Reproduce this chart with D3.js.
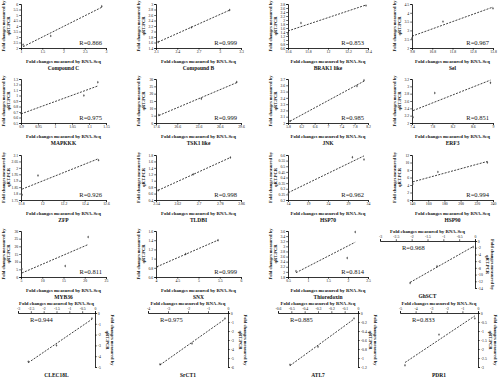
<!DOCTYPE html>
<html><head><meta charset="utf-8">
<script src="https://cdn.jsdelivr.net/npm/d3@7"></script>
<style>
body{margin:0;background:#fff}
svg{display:block}
text{font-family:"Liberation Serif","Times New Roman",serif;fill:#111}
</style>
</head><body><svg id="c" width="500" height="381"></svg>
<script>
// ---------- data ----------
const titles = ["Compound C","Compound B","BRAK1 like","Sel",
  "MAPKKK","TSK1 like","JNK","ERF3",
  "ZFP","TLDBI","HSP70","HSP90",
  "MYB36","SNX","Thioredoxin","GhSCT",
  "CLEC18L","SrCT1","ATL7","PDR1"];
const rLabels = ["R=0.866","R=0.999","R=0.853","R=0.967",
  "R=0.975","R=0.999","R=0.985","R=0.851",
  "R=0.926","R=0.998","R=0.962","R=0.994",
  "R=0.811","R=0.999","R=0.814","R=0.968",
  "R=0.944","R=0.975","R=0.885","R=0.833"];
const xTicks = [
  [1,1.5,2,2.5,3],
  [2.1,2.4,2.7,3,3.3],
  [11.6,11.8,12,12.2,12.4],
  [9.8,10.8,11.8,12.8,13.8],
  [0.9,0.95,1,1.05,1.1,1.15],
  [17.6,20.6,23.6,26.6,29.6],
  [5.8,6.2,6.6,7,7.4,7.8,8.2],
  [7.4,7.8,8.2,8.6,9],
  [11.8,12,12.2,12.4,12.6],
  [2.54,2.62,2.7,2.78,2.86],
  [14,19,24,29,34],
  [140,160,180,200,220,240],
  [5,10,15,20,25],
  [4,4.5,5,5.5,6],
  [0.5,1,1.5,2,2.5],
  [-3,-2.5,-2,-1.5,-1,-0.5,0],
  [-3,-2.5,-2,-1.5,-1,-0.5,0],
  [-4,-3,-2,-1,0],
  [-0.6,-0.5,-0.4,-0.3,-0.2,-0.1,0],
  [-5,-4,-3,-2,-1,0]];
const yTicks = [
  [2,2.5,3,3.5,4,4.5,5,5.5,6],
  [1.4,1.6,1.8,2,2.2,2.4,2.6,2.8,3],
  [0.6,0.8,1,1.2,1.4,1.6,1.8,2,2.2,2.4,2.6,2.8],
  [2,2.5,3,3.5,4,4.5],
  [0.5,0.6,0.7,0.8,0.9,1,1.1,1.2,1.3],
  [0,5,10,15,20,25,30],
  [2,2.1,2.2,2.3,2.4,2.5,2.6,2.7],
  [2,2.2,2.4,2.6,2.8,3,3.2],
  [1.75,1.8,1.85,1.9,1.95,2,2.05,2.1],
  [0.4,0.6,0.8,1,1.2,1.4,1.6,1.8],
  [0.2,0.25,0.3,0.35,0.4,0.45,0.5,0.55,0.6],
  [0,2,4,6,8,10,12],
  [0,5,10,15,20,25,30],
  [0.6,0.8,1,1.2,1.4,1.6],
  [1.8,2,2.2,2.4,2.6,2.8,3,3.2,3.4,3.6],
  [-14,-12,-10,-8,-6,-4,-2,0],
  [-5,-4,-3,-2,-1,0],
  [-6,-5,-4,-3,-2,-1,0],
  [-1.2,-1,-0.8,-0.6,-0.4,-0.2,0],
  [-3,-2.5,-2,-1.5,-1,-0.5,0]];
const rnaSeq = [
  [1.05,1.7,2.9],[2.13,2.6,3.14],[11.6,11.73,12.38],[9.8,11.33,13.8],
  [0.9,1.085,1.126],[18,24,29],[5.86,7.87,8.08],[7.42,7.85,8.95],
  [11.81,11.96,12.53],[2.548,2.68,2.82],[14.1,30.1,33],[141,172,233],
  [5.2,15.4,20.8],[4.02,4.7,5.46],[0.7,1.98,2.18],[-2.05,-1.2,-0.06],
  [-2.6,-1.5,-0.12],[-3.4,-1.8,-0.15],[-0.51,-0.3,-0.03],[-4.68,-2.5,-0.2]];
const qPCR = [
  [2.3,3.1,5.8],[1.62,2.15,2.78],[1.3,1.85,2.72],[2.55,3.5,4.25],
  [0.68,1.0,1.24],[5.5,16.5,28],[2.03,2.59,2.68],[2.16,2.82,3.1],
  [1.79,1.94,2.06],[0.7,1.2,1.72],[0.26,0.58,0.56],[4.3,7.5,10],
  [5.2,7.2,26.1],[0.82,1.1,1.4],[2.03,2.54,3.56],[-12.5,-7.5,-1.8],
  [-4.5,-3.0,-0.5],[-5.7,-3.4,-0.6],[-1.15,-0.75,-0.12],[-2.9,-1.2,-0.3]];
const xLabel = "Fold changes measured by RNA-Seq";
const yLabel1 = "Fold changes measured by", yLabel2 = "qRT-PCR";

// ---------- layout ----------
const colX0 = [21,156,288,412], colX1 = [106,241,368,493];
const rowTop = [4,79,155,231], rowBot = [48,123,200,277];
function box(i){
  if(i < 15){ const r = Math.floor(i/4), c = i%4;
    return {x0:colX0[c], x1:colX1[c], top:rowTop[r], bot:rowBot[r], inv:false}; }
  if(i === 15) return {x0:380, x1:475, top:241, bot:288, inv:true};
  const c = i-16;
  return {x0:[18,148,278,400][c], x1:[95,228,358,478][c], top:313, bot:367, inv:true};
}

const svg = d3.select("#c");
const fmt = d => String(+d.toFixed(3));

titles.forEach((t,i)=>{
  const L = box(i), xt = xTicks[i], yt = yTicks[i];
  const x = d3.scaleLinear().domain([xt[0], xt[xt.length-1]]).range([L.x0, L.x1]);
  const y = d3.scaleLinear().domain([yt[0], yt[yt.length-1]]).range([L.bot, L.top]);
  const g = svg.append("g");
  const xa = (L.inv ? d3.axisTop(x) : d3.axisBottom(x)).tickValues(xt).tickSize(1.8).tickPadding(1).tickFormat(fmt);
  const ya = (L.inv ? d3.axisRight(y) : d3.axisLeft(y)).tickValues(yt).tickSize(1.8).tickPadding(1).tickFormat(fmt);
  const gx = g.append("g").attr("transform",`translate(0,${L.inv?L.top:L.bot})`).call(xa);
  const gy = g.append("g").attr("transform",`translate(${L.inv?L.x1:L.x0},0)`).call(ya);
  [gx,gy].forEach(a=>{
    a.select(".domain").attr("stroke","#000").attr("stroke-width",0.8);
    a.selectAll(".tick line").attr("stroke","#000").attr("stroke-width",0.6);
    a.selectAll(".tick text").attr("font-size",3.8).attr("fill","#333").style("font-family","Liberation Serif");
  });

  // data points
  const xs = rnaSeq[i], ys = qPCR[i];
  g.selectAll("path.pt").data(xs).join("path").attr("class","pt")
    .attr("transform",(d,k)=>`translate(${x(d)},${y(ys[k])})`)
    .attr("d", d3.symbol(d3.symbolDiamond, 2.5)).attr("fill","#555");

  // linear trendline (least squares through the points)
  const mx = d3.mean(xs), my = d3.mean(ys);
  const sxy = d3.sum(xs,(d,k)=>(d-mx)*(ys[k]-my)), sxx = d3.sum(xs,d=>(d-mx)*(d-mx));
  const b = sxy/sxx, a0 = my - b*mx;
  const ext = d3.extent(xs);
  g.append("line").attr("x1",x(ext[0])).attr("y1",y(a0+b*ext[0]))
    .attr("x2",x(ext[1])).attr("y2",y(a0+b*ext[1]))
    .attr("stroke","#111").attr("stroke-width",0.8).attr("stroke-dasharray","2,1.3");

  // R label
  if(!L.inv){
    g.append("text").attr("x",L.x1-4).attr("y",L.bot-3).attr("text-anchor","end")
      .attr("font-size",6.5).text(rLabels[i]);
  } else {
    g.append("text").attr("x",L.x0+(i===15?22:12)).attr("y",L.top+9).attr("text-anchor","start")
      .attr("font-size",6.5).text(rLabels[i]);
  }

  const cx = (L.x0+L.x1)/2, cy = (L.top+L.bot)/2;
  g.append("text").attr("x",cx).attr("y",L.inv? L.top-8 : L.bot+14.5)
    .attr("text-anchor","middle").attr("font-size",4.8).attr("font-weight","bold").text(xLabel);
  g.append("text").attr("x",cx).attr("y",L.inv? L.bot+10 : L.bot+22)
    .attr("text-anchor","middle").attr("font-size",5.5).attr("font-weight","bold").text(t);
  if(!L.inv){
    const yl = g.append("text").attr("transform",`translate(${L.x0-16.5},${cy}) rotate(-90)`)
      .attr("text-anchor","middle").attr("font-size",4.5).attr("font-weight","bold");
    yl.append("tspan").attr("x",0).attr("dy",0).text(yLabel1);
    yl.append("tspan").attr("x",0).attr("dy",5).text(yLabel2);
  } else {
    const yl = g.append("text").attr("transform",`translate(${L.x1+16},${cy}) rotate(90)`)
      .attr("text-anchor","middle").attr("font-size",4.5).attr("font-weight","bold");
    yl.append("tspan").attr("x",0).attr("dy",0).text(yLabel1);
    yl.append("tspan").attr("x",0).attr("dy",5).text(yLabel2);
  }
});
</script>
</body></html>
